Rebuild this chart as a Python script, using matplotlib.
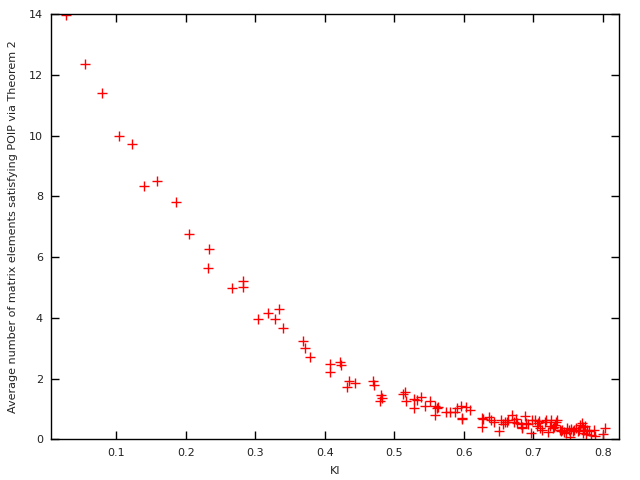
import matplotlib
matplotlib.use("Agg")
import matplotlib.pyplot as plt

ki = [0.027, 0.055, 0.080, 0.104, 0.122, 0.140, 0.159, 0.186, 0.204,
      0.234, 0.232, 0.267, 0.283, 0.283, 0.304, 0.319, 0.334, 0.328, 0.340,
      0.369, 0.371, 0.379, 0.407, 0.407, 0.422, 0.423, 0.435, 0.432, 0.444,
      0.470, 0.471, 0.481, 0.483, 0.480,
      0.513, 0.516, 0.517, 0.528, 0.529, 0.533, 0.538, 0.545, 0.552, 0.559,
      0.558, 0.561, 0.563, 0.575, 0.581, 0.587, 0.590, 0.596, 0.598, 0.598,
      0.604, 0.609,
      0.626, 0.627, 0.628, 0.637, 0.640, 0.644, 0.651, 0.654, 0.656, 0.659,
      0.662, 0.664, 0.670, 0.673, 0.675, 0.677, 0.682, 0.684, 0.684, 0.688,
      0.690, 0.693, 0.697, 0.699, 0.703, 0.705, 0.707, 0.709, 0.710, 0.712,
      0.717, 0.719, 0.722, 0.724, 0.726, 0.728, 0.730, 0.732, 0.733, 0.735,
      0.738, 0.740, 0.742, 0.745, 0.747, 0.749, 0.751, 0.753, 0.755, 0.757,
      0.759, 0.762, 0.764, 0.766, 0.768, 0.770, 0.771, 0.772, 0.773, 0.774,
      0.776, 0.778, 0.780, 0.783, 0.787, 0.789, 0.801, 0.803]
avg = [13.98, 12.38, 11.40, 9.98, 9.72, 8.33, 8.50, 7.81, 6.75,
       6.26, 5.63, 4.97, 5.22, 5.03, 3.95, 4.16, 4.29, 3.95, 3.66,
       3.24, 3.00, 2.70, 2.47, 2.21, 2.55, 2.46, 1.91, 1.71, 1.84,
       1.93, 1.78, 1.46, 1.36, 1.26,
       1.49, 1.56, 1.25, 1.33, 1.02, 1.28, 1.40, 1.11, 1.26, 1.10,
       0.80, 1.03, 1.06, 0.89, 0.89, 0.91, 1.04, 1.10, 0.71, 0.66,
       1.07, 0.97,
       0.69, 0.42, 0.66, 0.74, 0.64, 0.58, 0.26, 0.64, 0.49, 0.58,
       0.58, 0.62, 0.80, 0.58, 0.66, 0.55, 0.50, 0.42, 0.36, 0.77,
       0.55, 0.50, 0.20, 0.62, 0.64, 0.45, 0.53, 0.60, 0.38, 0.31,
       0.58, 0.62, 0.23, 0.45, 0.62, 0.38, 0.40, 0.48, 0.56, 0.62,
       0.30, 0.28, 0.32, 0.25, 0.22, 0.36, 0.30, 0.09, 0.33, 0.28,
       0.32, 0.36, 0.26, 0.30, 0.48, 0.55, 0.40, 0.22, 0.30, 0.45,
       0.18, 0.32, 0.28, 0.15, 0.30, 0.12, 0.17, 0.36]

fig = plt.figure(figsize=(6.4, 4.8), dpi=100)
ax = fig.add_axes([0.0802, 0.0848, 0.8875, 0.8852])
ax.plot(ki, avg, linestyle='none', marker='+', color='#ff0000',
        markersize=6.5, markeredgewidth=1.0)
ax.set_xlim(0.0065, 0.824)
ax.set_ylim(0, 14)
ax.set_xticks([0.1, 0.2, 0.3, 0.4, 0.5, 0.6, 0.7, 0.8])
ax.set_xticklabels(['0.1', '0.2', '0.3', '0.4', '0.5', '0.6', '0.7', '0.8'])
ax.set_yticks([0, 2, 4, 6, 8, 10, 12, 14])
ax.set_yticklabels(['0', '2', '4', '6', '8', '10', '12', '14'])
ax.tick_params(direction='in', length=6, width=1, top=True, right=True,
               labelsize=8, colors='black', labelcolor='#222222', pad=6)
for sp in ax.spines.values():
    sp.set_linewidth(1)
ax.set_xlabel('KI', fontsize=8, labelpad=6, color='#222222')
ax.set_ylabel('Average number of matrix elements satisfying POIP via Theorem 2',
              fontsize=8, labelpad=8, color='#222222')
fig.savefig('out.png', dpi=100)
